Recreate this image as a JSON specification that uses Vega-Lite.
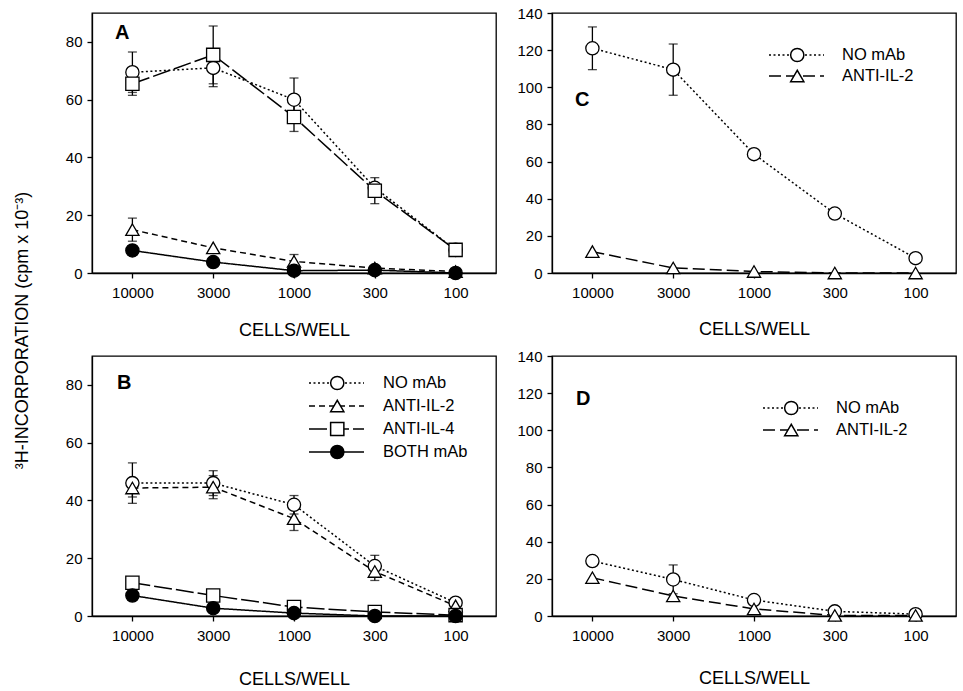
{
  "$schema": "https://vega.github.io/schema/vega-lite/v6.json",
  "background": "white",
  "padding": {"left": 12, "top": 5, "right": 5, "bottom": 5},
  "bounds": "flush",
  "columns": 2,
  "spacing": {"row": 83, "column": 56},
  "config": {
    "font": "Liberation Sans",
    "view": {"stroke": "black", "strokeWidth": 1.3},
    "axis": {"grid": false, "domainColor": "black", "domainWidth": 1.3, "tickColor": "black", "tickWidth": 1.3, "tickSize": 5, "labelColor": "black", "labelFontSize": 15, "titleColor": "black", "titleFontSize": 18, "titleFontWeight": "normal", "labelPadding": 5},
    "legend": {"labelFontSize": 16.5, "labelColor": "black", "padding": 0, "title": null},
    "title": {"font": "Liberation Sans", "fontSize": 20, "fontWeight": "bold", "color": "black", "anchor": "start", "frame": "group"}
  },
  "resolve": {"scale": {"strokeDash": "independent", "shape": "independent", "fill": "independent"}, "legend": {"strokeDash": "independent", "shape": "independent", "fill": "independent"}},
  "datasets": {
    "pts": [
      {"panel": "A", "series": "NO mAb", "cells": "10000", "value": 69.5, "lo": 62.5, "hi": 76.5},
      {"panel": "A", "series": "NO mAb", "cells": "3000", "value": 71, "lo": 64.5, "hi": 77.5},
      {"panel": "A", "series": "NO mAb", "cells": "1000", "value": 60, "lo": 52.5, "hi": 67.5},
      {"panel": "A", "series": "NO mAb", "cells": "300", "value": 29.5},
      {"panel": "A", "series": "NO mAb", "cells": "100", "value": 8},
      {"panel": "A", "series": "ANTI-IL-2", "cells": "10000", "value": 15, "lo": 11, "hi": 19},
      {"panel": "A", "series": "ANTI-IL-2", "cells": "3000", "value": 8.7},
      {"panel": "A", "series": "ANTI-IL-2", "cells": "1000", "value": 4, "lo": 1.6, "hi": 6.4},
      {"panel": "A", "series": "ANTI-IL-2", "cells": "300", "value": 1.7},
      {"panel": "A", "series": "ANTI-IL-2", "cells": "100", "value": 0.5},
      {"panel": "A", "series": "ANTI-IL-4", "cells": "10000", "value": 65.5, "lo": 61.5, "hi": 69.5},
      {"panel": "A", "series": "ANTI-IL-4", "cells": "3000", "value": 75.5, "lo": 65.5, "hi": 85.5},
      {"panel": "A", "series": "ANTI-IL-4", "cells": "1000", "value": 54, "lo": 49, "hi": 59},
      {"panel": "A", "series": "ANTI-IL-4", "cells": "300", "value": 28.5, "lo": 24, "hi": 33},
      {"panel": "A", "series": "ANTI-IL-4", "cells": "100", "value": 8},
      {"panel": "A", "series": "BOTH mAb", "cells": "10000", "value": 7.8},
      {"panel": "A", "series": "BOTH mAb", "cells": "3000", "value": 3.8},
      {"panel": "A", "series": "BOTH mAb", "cells": "1000", "value": 0.8},
      {"panel": "A", "series": "BOTH mAb", "cells": "300", "value": 1},
      {"panel": "A", "series": "BOTH mAb", "cells": "100", "value": 0},
      {"panel": "B", "series": "NO mAb", "cells": "10000", "value": 46, "lo": 39, "hi": 53},
      {"panel": "B", "series": "NO mAb", "cells": "3000", "value": 46, "lo": 41.7, "hi": 50.3},
      {"panel": "B", "series": "NO mAb", "cells": "1000", "value": 38.5, "lo": 35.3, "hi": 41.7},
      {"panel": "B", "series": "NO mAb", "cells": "300", "value": 17.3, "lo": 13.6, "hi": 21},
      {"panel": "B", "series": "NO mAb", "cells": "100", "value": 4.6},
      {"panel": "B", "series": "ANTI-IL-2", "cells": "10000", "value": 44.3, "lo": 41.2, "hi": 47.4},
      {"panel": "B", "series": "ANTI-IL-2", "cells": "3000", "value": 44.6, "lo": 40.6, "hi": 48.6},
      {"panel": "B", "series": "ANTI-IL-2", "cells": "1000", "value": 33.7, "lo": 29.6, "hi": 37.8},
      {"panel": "B", "series": "ANTI-IL-2", "cells": "300", "value": 15.4, "lo": 12.3, "hi": 18.5},
      {"panel": "B", "series": "ANTI-IL-2", "cells": "100", "value": 3.5},
      {"panel": "B", "series": "ANTI-IL-4", "cells": "10000", "value": 11.5},
      {"panel": "B", "series": "ANTI-IL-4", "cells": "3000", "value": 7.1},
      {"panel": "B", "series": "ANTI-IL-4", "cells": "1000", "value": 3.1},
      {"panel": "B", "series": "ANTI-IL-4", "cells": "300", "value": 1.4},
      {"panel": "B", "series": "ANTI-IL-4", "cells": "100", "value": 0.3},
      {"panel": "B", "series": "BOTH mAb", "cells": "10000", "value": 7.1},
      {"panel": "B", "series": "BOTH mAb", "cells": "3000", "value": 2.7},
      {"panel": "B", "series": "BOTH mAb", "cells": "1000", "value": 1},
      {"panel": "B", "series": "BOTH mAb", "cells": "300", "value": 0},
      {"panel": "B", "series": "BOTH mAb", "cells": "100", "value": 0},
      {"panel": "C", "series": "NO mAb", "cells": "10000", "value": 121, "lo": 109.5, "hi": 132.5},
      {"panel": "C", "series": "NO mAb", "cells": "3000", "value": 109.5, "lo": 95.7, "hi": 123.3},
      {"panel": "C", "series": "NO mAb", "cells": "1000", "value": 64},
      {"panel": "C", "series": "NO mAb", "cells": "300", "value": 32, "lo": 29.5, "hi": 34.5},
      {"panel": "C", "series": "NO mAb", "cells": "100", "value": 8},
      {"panel": "C", "series": "ANTI-IL-2", "cells": "10000", "value": 11.5},
      {"panel": "C", "series": "ANTI-IL-2", "cells": "3000", "value": 2.7},
      {"panel": "C", "series": "ANTI-IL-2", "cells": "1000", "value": 0.8},
      {"panel": "C", "series": "ANTI-IL-2", "cells": "300", "value": 0},
      {"panel": "C", "series": "ANTI-IL-2", "cells": "100", "value": 0},
      {"panel": "D", "series": "NO mAb", "cells": "10000", "value": 29.6},
      {"panel": "D", "series": "NO mAb", "cells": "3000", "value": 19.7, "lo": 12, "hi": 27.5},
      {"panel": "D", "series": "NO mAb", "cells": "1000", "value": 8.6},
      {"panel": "D", "series": "NO mAb", "cells": "300", "value": 2.5},
      {"panel": "D", "series": "NO mAb", "cells": "100", "value": 1},
      {"panel": "D", "series": "ANTI-IL-2", "cells": "10000", "value": 20.6},
      {"panel": "D", "series": "ANTI-IL-2", "cells": "3000", "value": 10.8},
      {"panel": "D", "series": "ANTI-IL-2", "cells": "1000", "value": 3.8},
      {"panel": "D", "series": "ANTI-IL-2", "cells": "300", "value": 0.3},
      {"panel": "D", "series": "ANTI-IL-2", "cells": "100", "value": 0.3}
    ]
  },
  "concat": [
    {
      "width": 404, "height": 260,
      "title": {"text": "A", "dx": 23, "offset": -30},
      "data": {"name": "pts"},
      "transform": [{"filter": "datum.panel === 'A'"}],
      "encoding": {"x": {"field": "cells", "type": "ordinal", "sort": ["10000", "3000", "1000", "300", "100"], "scale": {"type": "point", "padding": 0.5}, "axis": {"labelAngle": 0, "title": "CELLS/WELL", "titlePadding": 21, "labelPadding": 7}}},
      "layer": [
        {"transform": [{"filter": "isValid(datum.lo)"}], "mark": {"type": "rule", "color": "black", "strokeWidth": 1.3},
         "encoding": {"y": {"field": "lo", "type": "quantitative", "scale": {"domain": [0, 90]}, "axis": {"values": [0, 20, 40, 60, 80], "title": "³H-INCORPORATION (cpm x 10⁻³)", "titleX": -70, "titleY": 317, "titleAngle": -90, "titleBaseline": "middle", "titleAlign": "center"}}, "y2": {"field": "hi"}}},
        {"transform": [{"filter": "isValid(datum.lo)"}], "mark": {"type": "tick", "color": "black", "size": 9, "thickness": 1.3},
         "encoding": {"y": {"field": "hi", "type": "quantitative", "scale": {"domain": [0, 90]}, "axis": {"values": [0, 20, 40, 60, 80], "title": "³H-INCORPORATION (cpm x 10⁻³)", "titleX": -70, "titleY": 317, "titleAngle": -90, "titleBaseline": "middle", "titleAlign": "center"}}}},
        {"transform": [{"filter": "isValid(datum.lo)"}], "mark": {"type": "tick", "color": "black", "size": 9, "thickness": 1.3},
         "encoding": {"y": {"field": "lo", "type": "quantitative", "scale": {"domain": [0, 90]}, "axis": {"values": [0, 20, 40, 60, 80], "title": "³H-INCORPORATION (cpm x 10⁻³)", "titleX": -70, "titleY": 317, "titleAngle": -90, "titleBaseline": "middle", "titleAlign": "center"}}}},
        {"mark": {"type": "line", "color": "black", "strokeWidth": 1.5},
         "encoding": {
           "y": {"field": "value", "type": "quantitative", "scale": {"domain": [0, 90]}, "axis": {"values": [0, 20, 40, 60, 80], "title": "³H-INCORPORATION (cpm x 10⁻³)", "titleX": -70, "titleY": 317, "titleAngle": -90, "titleBaseline": "middle", "titleAlign": "center"}},
           "strokeDash": {"field": "series", "type": "nominal", "scale": {"domain": ["NO mAb", "ANTI-IL-2", "ANTI-IL-4", "BOTH mAb"], "range": [[2, 2.5], [6, 4], [18, 4], [1, 0]]}, "legend": null}}},
        {"mark": {"type": "point", "size": 175, "stroke": "black", "strokeWidth": 1.3, "opacity": 1},
         "encoding": {
           "y": {"field": "value", "type": "quantitative", "scale": {"domain": [0, 90]}, "axis": {"values": [0, 20, 40, 60, 80], "title": "³H-INCORPORATION (cpm x 10⁻³)", "titleX": -70, "titleY": 317, "titleAngle": -90, "titleBaseline": "middle", "titleAlign": "center"}},
           "shape": {"field": "series", "type": "nominal", "scale": {"domain": ["NO mAb", "ANTI-IL-2", "ANTI-IL-4", "BOTH mAb"], "range": ["circle", "triangle-up", "square", "circle"]}, "legend": null},
           "fill": {"field": "series", "type": "nominal", "scale": {"domain": ["NO mAb", "ANTI-IL-2", "ANTI-IL-4", "BOTH mAb"], "range": ["white", "white", "white", "black"]}, "legend": null}}}
      ]
    },
    {
      "width": 404, "height": 260,
      "title": {"text": "C", "dx": 23, "offset": -104},
      "data": {"name": "pts"},
      "transform": [{"filter": "datum.panel === 'C'"}],
      "encoding": {"x": {"field": "cells", "type": "ordinal", "sort": ["10000", "3000", "1000", "300", "100"], "scale": {"type": "point", "padding": 0.5}, "axis": {"labelAngle": 0, "title": "CELLS/WELL", "titlePadding": 20, "labelPadding": 7}}},
      "layer": [
        {"transform": [{"filter": "isValid(datum.lo)"}], "mark": {"type": "rule", "color": "black", "strokeWidth": 1.3},
         "encoding": {"y": {"field": "lo", "type": "quantitative", "scale": {"domain": [0, 140]}, "axis": {"values": [0, 20, 40, 60, 80, 100, 120, 140], "title": null}}, "y2": {"field": "hi"}}},
        {"transform": [{"filter": "isValid(datum.lo)"}], "mark": {"type": "tick", "color": "black", "size": 9, "thickness": 1.3},
         "encoding": {"y": {"field": "hi", "type": "quantitative", "scale": {"domain": [0, 140]}, "axis": {"values": [0, 20, 40, 60, 80, 100, 120, 140], "title": null}}}},
        {"transform": [{"filter": "isValid(datum.lo)"}], "mark": {"type": "tick", "color": "black", "size": 9, "thickness": 1.3},
         "encoding": {"y": {"field": "lo", "type": "quantitative", "scale": {"domain": [0, 140]}, "axis": {"values": [0, 20, 40, 60, 80, 100, 120, 140], "title": null}}}},
        {"mark": {"type": "line", "color": "black", "strokeWidth": 1.5},
         "encoding": {
           "y": {"field": "value", "type": "quantitative", "scale": {"domain": [0, 140]}, "axis": {"values": [0, 20, 40, 60, 80, 100, 120, 140], "title": null}},
           "strokeDash": {"field": "series", "type": "nominal", "sort": ["NO mAb", "ANTI-IL-2"], "scale": {"range": [[2, 2.5], [12, 5]]},
             "legend": {"orient": "none", "legendX": 216, "legendY": 34, "zindex": 1, "symbolType": "stroke", "symbolSize": 3025, "symbolStrokeWidth": 1.5, "symbolStrokeColor": "black", "symbolFillColor": "transparent", "clipHeight": 16, "rowPadding": 4, "labelOffset": 17}}}},
        {"mark": {"type": "point", "size": 175, "stroke": "black", "strokeWidth": 1.3, "opacity": 1},
         "encoding": {
           "y": {"field": "value", "type": "quantitative", "scale": {"domain": [0, 140]}, "axis": {"values": [0, 20, 40, 60, 80, 100, 120, 140], "title": null}},
           "shape": {"field": "series", "type": "nominal", "scale": {"domain": ["NO mAb", "ANTI-IL-2"], "range": ["circle", "triangle-up"]},
             "legend": {"orient": "none", "legendX": 216, "legendY": 34, "zindex": 2, "symbolSize": 175, "symbolOffset": 21, "clipHeight": 16, "rowPadding": 4, "labelOffset": 18, "labelExpr": "''", "encode": {"symbols": {"update": {"stroke": {"value": "black"}, "strokeWidth": {"value": 1.3}, "opacity": {"value": 1}}}}}},
           "fill": {"field": "series", "type": "nominal", "scale": {"domain": ["NO mAb", "ANTI-IL-2"], "range": ["white", "white"]}}}}
      ]
    },
    {
      "width": 404, "height": 260,
      "title": {"text": "B", "dx": 25, "offset": -37},
      "data": {"name": "pts"},
      "transform": [{"filter": "datum.panel === 'B'"}],
      "encoding": {"x": {"field": "cells", "type": "ordinal", "sort": ["10000", "3000", "1000", "300", "100"], "scale": {"type": "point", "padding": 0.5}, "axis": {"labelAngle": 0, "title": "CELLS/WELL", "titlePadding": 27, "labelPadding": 7}}},
      "layer": [
        {"transform": [{"filter": "isValid(datum.lo)"}], "mark": {"type": "rule", "color": "black", "strokeWidth": 1.3},
         "encoding": {"y": {"field": "lo", "type": "quantitative", "scale": {"domain": [0, 90]}, "axis": {"values": [0, 20, 40, 60, 80], "title": null}}, "y2": {"field": "hi"}}},
        {"transform": [{"filter": "isValid(datum.lo)"}], "mark": {"type": "tick", "color": "black", "size": 9, "thickness": 1.3},
         "encoding": {"y": {"field": "hi", "type": "quantitative", "scale": {"domain": [0, 90]}, "axis": {"values": [0, 20, 40, 60, 80], "title": null}}}},
        {"transform": [{"filter": "isValid(datum.lo)"}], "mark": {"type": "tick", "color": "black", "size": 9, "thickness": 1.3},
         "encoding": {"y": {"field": "lo", "type": "quantitative", "scale": {"domain": [0, 90]}, "axis": {"values": [0, 20, 40, 60, 80], "title": null}}}},
        {"mark": {"type": "line", "color": "black", "strokeWidth": 1.5},
         "encoding": {
           "y": {"field": "value", "type": "quantitative", "scale": {"domain": [0, 90]}, "axis": {"values": [0, 20, 40, 60, 80], "title": null}},
           "strokeDash": {"field": "series", "type": "nominal", "sort": ["NO mAb", "ANTI-IL-2", "ANTI-IL-4", "BOTH mAb"], "scale": {"range": [[2, 2.5], [6, 4], [18, 4], [1, 0]]},
             "legend": {"orient": "none", "legendX": 216, "legendY": 19, "zindex": 1, "symbolType": "stroke", "symbolSize": 3025, "symbolStrokeWidth": 1.5, "symbolStrokeColor": "black", "symbolFillColor": "transparent", "clipHeight": 16, "rowPadding": 6, "labelOffset": 18}}}},
        {"mark": {"type": "point", "size": 175, "stroke": "black", "strokeWidth": 1.3, "opacity": 1},
         "encoding": {
           "y": {"field": "value", "type": "quantitative", "scale": {"domain": [0, 90]}, "axis": {"values": [0, 20, 40, 60, 80], "title": null}},
           "shape": {"field": "series", "type": "nominal", "scale": {"domain": ["NO mAb", "ANTI-IL-2", "ANTI-IL-4", "BOTH mAb"], "range": ["circle", "triangle-up", "square", "circle"]},
             "legend": {"orient": "none", "legendX": 216, "legendY": 19, "zindex": 2, "symbolSize": 175, "symbolOffset": 21, "clipHeight": 16, "rowPadding": 6, "labelOffset": 19, "labelExpr": "''", "encode": {"symbols": {"update": {"stroke": {"value": "black"}, "strokeWidth": {"value": 1.3}, "opacity": {"value": 1}}}}}},
           "fill": {"field": "series", "type": "nominal", "scale": {"domain": ["NO mAb", "ANTI-IL-2", "ANTI-IL-4", "BOTH mAb"], "range": ["white", "white", "white", "black"]}}}}
      ]
    },
    {
      "width": 404, "height": 260,
      "title": {"text": "D", "dx": 24, "offset": -60},
      "data": {"name": "pts"},
      "transform": [{"filter": "datum.panel === 'D'"}],
      "encoding": {"x": {"field": "cells", "type": "ordinal", "sort": ["10000", "3000", "1000", "300", "100"], "scale": {"type": "point", "padding": 0.5}, "axis": {"labelAngle": 0, "title": "CELLS/WELL", "titlePadding": 26, "labelPadding": 7}}},
      "layer": [
        {"transform": [{"filter": "isValid(datum.lo)"}], "mark": {"type": "rule", "color": "black", "strokeWidth": 1.3},
         "encoding": {"y": {"field": "lo", "type": "quantitative", "scale": {"domain": [0, 140]}, "axis": {"values": [0, 20, 40, 60, 80, 100, 120, 140], "title": null}}, "y2": {"field": "hi"}}},
        {"transform": [{"filter": "isValid(datum.lo)"}], "mark": {"type": "tick", "color": "black", "size": 9, "thickness": 1.3},
         "encoding": {"y": {"field": "hi", "type": "quantitative", "scale": {"domain": [0, 140]}, "axis": {"values": [0, 20, 40, 60, 80, 100, 120, 140], "title": null}}}},
        {"transform": [{"filter": "isValid(datum.lo)"}], "mark": {"type": "tick", "color": "black", "size": 9, "thickness": 1.3},
         "encoding": {"y": {"field": "lo", "type": "quantitative", "scale": {"domain": [0, 140]}, "axis": {"values": [0, 20, 40, 60, 80, 100, 120, 140], "title": null}}}},
        {"mark": {"type": "line", "color": "black", "strokeWidth": 1.5},
         "encoding": {
           "y": {"field": "value", "type": "quantitative", "scale": {"domain": [0, 140]}, "axis": {"values": [0, 20, 40, 60, 80, 100, 120, 140], "title": null}},
           "strokeDash": {"field": "series", "type": "nominal", "sort": ["NO mAb", "ANTI-IL-2"], "scale": {"range": [[2, 2.5], [12, 5]]},
             "legend": {"orient": "none", "legendX": 210, "legendY": 44, "zindex": 1, "symbolType": "stroke", "symbolSize": 3025, "symbolStrokeWidth": 1.5, "symbolStrokeColor": "black", "symbolFillColor": "transparent", "clipHeight": 16, "rowPadding": 5, "labelOffset": 17}}}},
        {"mark": {"type": "point", "size": 175, "stroke": "black", "strokeWidth": 1.3, "opacity": 1},
         "encoding": {
           "y": {"field": "value", "type": "quantitative", "scale": {"domain": [0, 140]}, "axis": {"values": [0, 20, 40, 60, 80, 100, 120, 140], "title": null}},
           "shape": {"field": "series", "type": "nominal", "scale": {"domain": ["NO mAb", "ANTI-IL-2"], "range": ["circle", "triangle-up"]},
             "legend": {"orient": "none", "legendX": 210, "legendY": 44, "zindex": 2, "symbolSize": 175, "symbolOffset": 21, "clipHeight": 16, "rowPadding": 5, "labelOffset": 18, "labelExpr": "''", "encode": {"symbols": {"update": {"stroke": {"value": "black"}, "strokeWidth": {"value": 1.3}, "opacity": {"value": 1}}}}}},
           "fill": {"field": "series", "type": "nominal", "scale": {"domain": ["NO mAb", "ANTI-IL-2"], "range": ["white", "white"]}}}}
      ]
    }
  ]
}
